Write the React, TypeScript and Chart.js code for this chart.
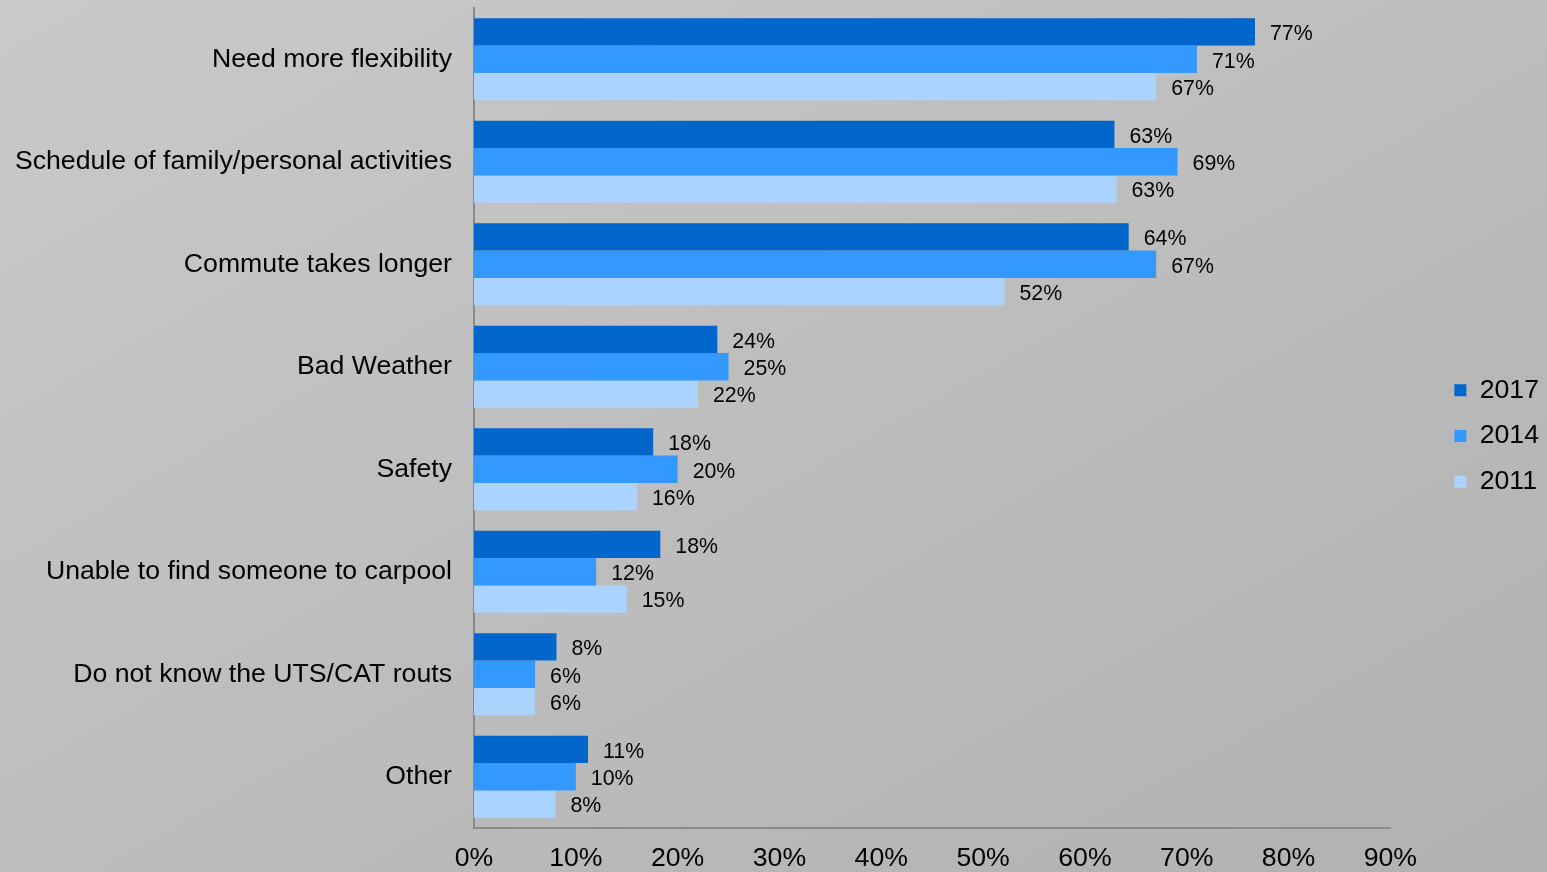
import React, { useEffect, useRef } from "react";
import { Chart, registerables } from "chart.js";

Chart.register(...registerables);

const categories = [
  "Need more flexibility",
  "Schedule of family/personal activities",
  "Commute takes longer",
  "Bad Weather",
  "Safety",
  "Unable to find someone to carpool",
  "Do not know the UTS/CAT routs",
  "Other",
];
const values2017 = [76.7, 62.9, 64.3, 23.9, 17.6, 18.3, 8.1, 11.2];
const values2014 = [71, 69.1, 67, 25, 20, 12, 6, 10];
const values2011 = [67, 63.1, 52.1, 22, 16, 15, 6, 8];
const seriesNames = ["2017", "2014", "2011"];
const seriesColors = ["#0066CC", "#3399FF", "#AAD4FF"];
const xTicks = [0, 10, 20, 30, 40, 50, 60, 70, 80, 90];

const FONT = "'Liberation Sans', Arial, sans-serif";

const valueLabels = {
  id: "valueLabels",
  afterDatasetsDraw(chart: any) {
    const ctx = chart.ctx;
    ctx.save();
    ctx.font = `21.33px ${FONT}`;
    ctx.fillStyle = "#000";
    ctx.textBaseline = "middle";
    ctx.textAlign = "left";
    chart.data.datasets.forEach((ds: any, i: number) => {
      const meta = chart.getDatasetMeta(i);
      meta.data.forEach((bar: any, j: number) => {
        const v = ds.data[j];
        ctx.fillText(`${Math.round(v)}%`, bar.x + 15, bar.y + 2.5);
      });
    });
    ctx.restore();
  },
};

const legendShift = {
  id: "legendShift",
  afterLayout(chart: any) {
    const lg = chart.legend;
    if (!lg) return;
    const w = lg.right - lg.left;
    lg.left = chart.chartArea.right + 45;
    lg.right = lg.left + w;
    lg.top -= 4;
    lg.bottom -= 4;
  },
};

export default function App() {
  const ref = useRef<HTMLCanvasElement | null>(null);
  useEffect(() => {
    if (!ref.current) return;
    const data = [values2017, values2014, values2011];
    const chart = new Chart(ref.current, {
      type: "bar",
      data: {
        labels: categories,
        datasets: seriesNames.map((n, i) => ({
          label: n,
          data: data[i],
          backgroundColor: seriesColors[i],
          borderWidth: 0,
          categoryPercentage: 0.8,
          barPercentage: 1.0,
        })),
      },
      options: {
        indexAxis: "y",
        animation: false,
        responsive: false,
        maintainAspectRatio: false,
        layout: { padding: { top: 8, left: 0, right: 43, bottom: 0 } },
        plugins: {
          tooltip: { enabled: false },
          legend: {
            position: "right",
            labels: {
              boxWidth: 12,
              boxHeight: 12,
              padding: 19,
              color: "#000",
              font: { size: 26.67, family: FONT },
            },
          },
        },
        scales: {
          x: {
            min: 0,
            max: 90,
            afterBuildTicks: (axis: any) => {
              axis.ticks = xTicks.map((v) => ({ value: v }));
            },
            afterFit: (s: any) => {
              s.height = 44;
              s.paddingLeft = 0;
              s.paddingRight = 0;
            },
            grid: { display: false, drawTicks: false },
            border: { display: true, color: "#8a8a8a", width: 2 },
            ticks: {
              padding: 15,
              color: "#000",
              font: { size: 26.67, family: FONT },
              callback: (v: any) => `${v}%`,
              maxRotation: 0,
              autoSkip: false,
            },
          },
          y: {
            afterFit: (s: any) => {
              s.width = 474;
              s.paddingTop = 0;
              s.paddingBottom = 0;
            },
            grid: { display: false, drawTicks: false },
            border: { display: true, color: "#8a8a8a", width: 2 },
            ticks: {
              padding: 22,
              color: "#000",
              font: { size: 26.67, family: FONT },
              autoSkip: false,
            },
          },
        },
      },
      plugins: [valueLabels, legendShift],
    } as any);
    return () => chart.destroy();
  }, []);
  return (
    <div
      style={{
        position: "fixed",
        left: 0,
        top: 0,
        width: 1547,
        height: 872,
        background: "linear-gradient(to bottom right, #c9c9c9, #b1b1b1)",
      }}
    >
      <canvas ref={ref} width={1547} height={872} style={{ display: "block" }} />
    </div>
  );
}
